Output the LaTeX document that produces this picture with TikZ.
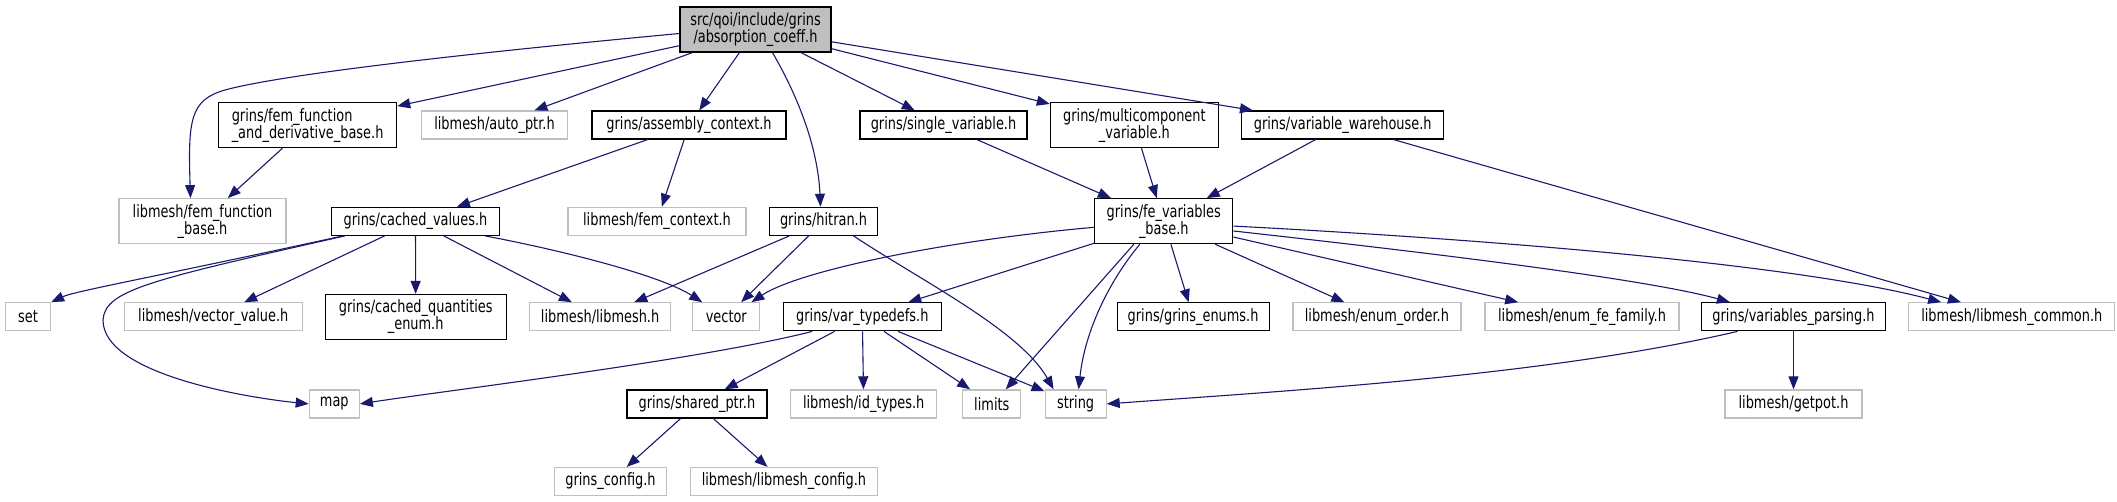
\documentclass[tikz,border=0pt]{standalone}
\usepackage{fontspec}
\setmainfont{DejaVu Sans}[FakeStretch=0.76]
\usetikzlibrary{arrows.meta}
\definecolor{DepEdge}{HTML}{191970}
\definecolor{ExtBorder}{HTML}{BFBFBF}
\definecolor{RootFill}{HTML}{BFBFBF}

\begin{document}
\begin{tikzpicture}[x=1pt, y=-1pt, >={Triangle[length=13pt,width=10pt]},
   font=\fontsize{17}{17}\selectfont,
   hdr/.style={draw=black, line width=1.2pt, fill=white, inner sep=0pt,
               minimum height=28pt, align=center},
   ext/.style={draw=ExtBorder, line width=1.2pt, fill=white, inner sep=0pt,
               minimum height=28pt, align=center},
   dep/.style={->, draw=DepEdge, line width=1.1pt}]
  \useasboundingbox (0,0) rectangle (2117,501);

  \node[hdr, fill=RootFill, minimum width=151pt, minimum height=45pt] (root) at (755.5,29.5) {src/qoi/include/grins\\/absorption\_coeff.h};

  \node[hdr, minimum width=178pt, minimum height=45pt, align=left] (femfdb) at (307.6,125.2) {grins/fem\_function\\\_and\_derivative\_base.h};
  \node[ext, minimum width=146pt] (autoptr) at (494.5,125) {libmesh/auto\_ptr.h};
  \node[hdr, minimum width=194pt] (asmctx) at (689,125) {grins/assembly\_context.h};
  \node[hdr, minimum width=167pt] (singlevar) at (943.5,125) {grins/single\_variable.h};
  \node[hdr, minimum width=168pt, minimum height=45pt] (multivar) at (1134.4,125.2) {grins/multicomponent\\\_variable.h};
  \node[hdr, minimum width=202pt] (varwh) at (1342.7,125) {grins/variable\_warehouse.h};

  \node[ext, minimum width=167pt, minimum height=45pt] (femfb) at (202.5,221.2) {libmesh/fem\_function\\\_base.h};
  \node[hdr, minimum width=168pt] (cachedv) at (415.5,221.3) {grins/cached\_values.h};
  \node[ext, minimum width=178pt] (femctx) at (657,221.3) {libmesh/fem\_context.h};
  \node[hdr, minimum width=108pt] (hitran) at (823.5,221.3) {grins/hitran.h};
  \node[hdr, minimum width=138pt, minimum height=45pt] (fevb) at (1163.8,221.2) {grins/fe\_variables\\\_base.h};

  \node[ext, minimum width=45pt] (setn) at (28,316.8) {set};
  \node[ext, minimum width=178pt] (vecval) at (213.3,316.8) {libmesh/vector\_value.h};
  \node[hdr, minimum width=181pt, minimum height=45pt] (cqenum) at (415.7,317) {grins/cached\_quantities\\\_enum.h};
  \node[ext, minimum width=141pt] (libmesh) at (600.1,316.8) {libmesh/libmesh.h};
  \node[ext, minimum width=67pt] (vectorn) at (726.3,316.8) {vector};
  \node[hdr, minimum width=158pt] (vartd) at (862.3,316.8) {grins/var\_typedefs.h};
  \node[hdr, minimum width=152pt] (genums) at (1193.1,316.8) {grins/grins\_enums.h};
  \node[ext, minimum width=168pt] (eorder) at (1376.9,316.8) {libmesh/enum\_order.h};
  \node[ext, minimum width=194pt] (efamily) at (1582,316.8) {libmesh/enum\_fe\_family.h};
  \node[hdr, minimum width=184pt] (vparse) at (1793.5,316.8) {grins/variables\_parsing.h};
  \node[ext, minimum width=206pt] (lmcommon) at (2011.8,316.8) {libmesh/libmesh\_common.h};

  \node[ext, minimum width=50pt] (mapn) at (334.3,403.9) {map};
  \node[hdr, minimum width=140pt] (sharedp) at (696.9,403.9) {grins/shared\_ptr.h};
  \node[ext, minimum width=146pt] (idtypes) at (863.7,403.9) {libmesh/id\_types.h};
  \node[ext, minimum width=58pt] (limitsn) at (991.8,403.9) {limits};
  \node[ext, minimum width=61pt] (stringn) at (1075.6,403.9) {string};
  \node[ext, minimum width=137pt] (getpot) at (1793.5,403.9) {libmesh/getpot.h};

  \node[ext, minimum width=112pt] (gconfig) at (610.5,481.5) {grins\_config.h};
  \node[ext, minimum width=187pt] (lmconfig) at (783.9,481.5) {libmesh/libmesh\_config.h};

  \draw[dep] (root.183) .. controls (450,55) and (280,75) .. (225,90)
    .. controls (190,100) and (188,120) .. ([xshift=-12pt]femfb.north);
  \draw[dep] (root) -- (femfdb);
  \draw[dep] (root) -- (autoptr);
  \draw[dep] (root) -- (asmctx);
  \draw[dep] ([xshift=17pt]root.south) .. controls (800,100) and (818,150) .. ([xshift=-3pt]hitran.north);
  \draw[dep] (root) -- (singlevar);
  \draw[dep] (root) -- (multivar);
  \draw[dep] (root) -- (varwh);

  \draw[dep] (femfdb) -- (femfb);
  \draw[dep] (asmctx) -- (cachedv);
  \draw[dep] (asmctx) -- (femctx);

  \draw[dep] ([xshift=12pt]cachedv.south west) .. controls (150,278) and (75,291) .. (setn.north east);
  \draw[dep] ([xshift=14pt]cachedv.south west) .. controls (150,280) and (105,290) .. (103,320)
    .. controls (103,375) and (250,398) .. (mapn.west);
  \draw[dep] (cachedv) -- (vecval);
  \draw[dep] (cachedv) -- (cqenum);
  \draw[dep] (cachedv) -- (libmesh);
  \draw[dep] ([xshift=-15pt]cachedv.south east) .. controls (560,250) and (660,275) .. ([xshift=10pt]vectorn.north west);

  \draw[dep] (hitran) -- (libmesh);
  \draw[dep] (hitran) -- (vectorn);
  \draw[dep] ([xshift=30pt]hitran.south) .. controls (920,280) and (1020,330) .. ([xshift=-22pt]stringn.north);

  \draw[dep] (singlevar) -- (fevb);
  \draw[dep] (multivar) -- (fevb);
  \draw[dep] (varwh) -- (fevb);
  \draw[dep] (varwh) -- (lmcommon);

  \draw[dep] (fevb.-175) .. controls (950,240) and (800,270) .. ([xshift=-9pt]vectorn.north east);
  \draw[dep] (fevb) -- (vartd);
  \draw[dep] ([xshift=-30pt]fevb.south) -- ([xshift=14pt]limitsn.north);
  \draw[dep] ([xshift=-24pt]fevb.south) .. controls (1110,280) and (1085,330) .. ([xshift=3pt]stringn.north);
  \draw[dep] (fevb) -- (genums);
  \draw[dep] (fevb) -- (eorder);
  \draw[dep] (fevb) -- (efamily);
  \draw[dep] (fevb.-8) .. controls (1450,255) and (1650,280) .. ([xshift=29pt]vparse.north west);
  \draw[dep] (fevb.-4) .. controls (1500,240) and (1800,265) .. ([xshift=33pt]lmcommon.north west);

  \draw[dep] ([xshift=-50pt]vartd.south) .. controls (700,360) and (450,390) .. (mapn.east);
  \draw[dep] (vartd) -- (sharedp);
  \draw[dep] (vartd) -- (idtypes);
  \draw[dep] (vartd) -- (limitsn);
  \draw[dep] (vartd) -- (stringn);

  \draw[dep] (sharedp) -- (gconfig);
  \draw[dep] (sharedp) -- (lmconfig);

  \draw[dep] ([xshift=-56pt]vparse.south) .. controls (1550,375) and (1300,390) .. (stringn.east);
  \draw[dep] (vparse) -- (getpot);
\end{tikzpicture}
\end{document}
